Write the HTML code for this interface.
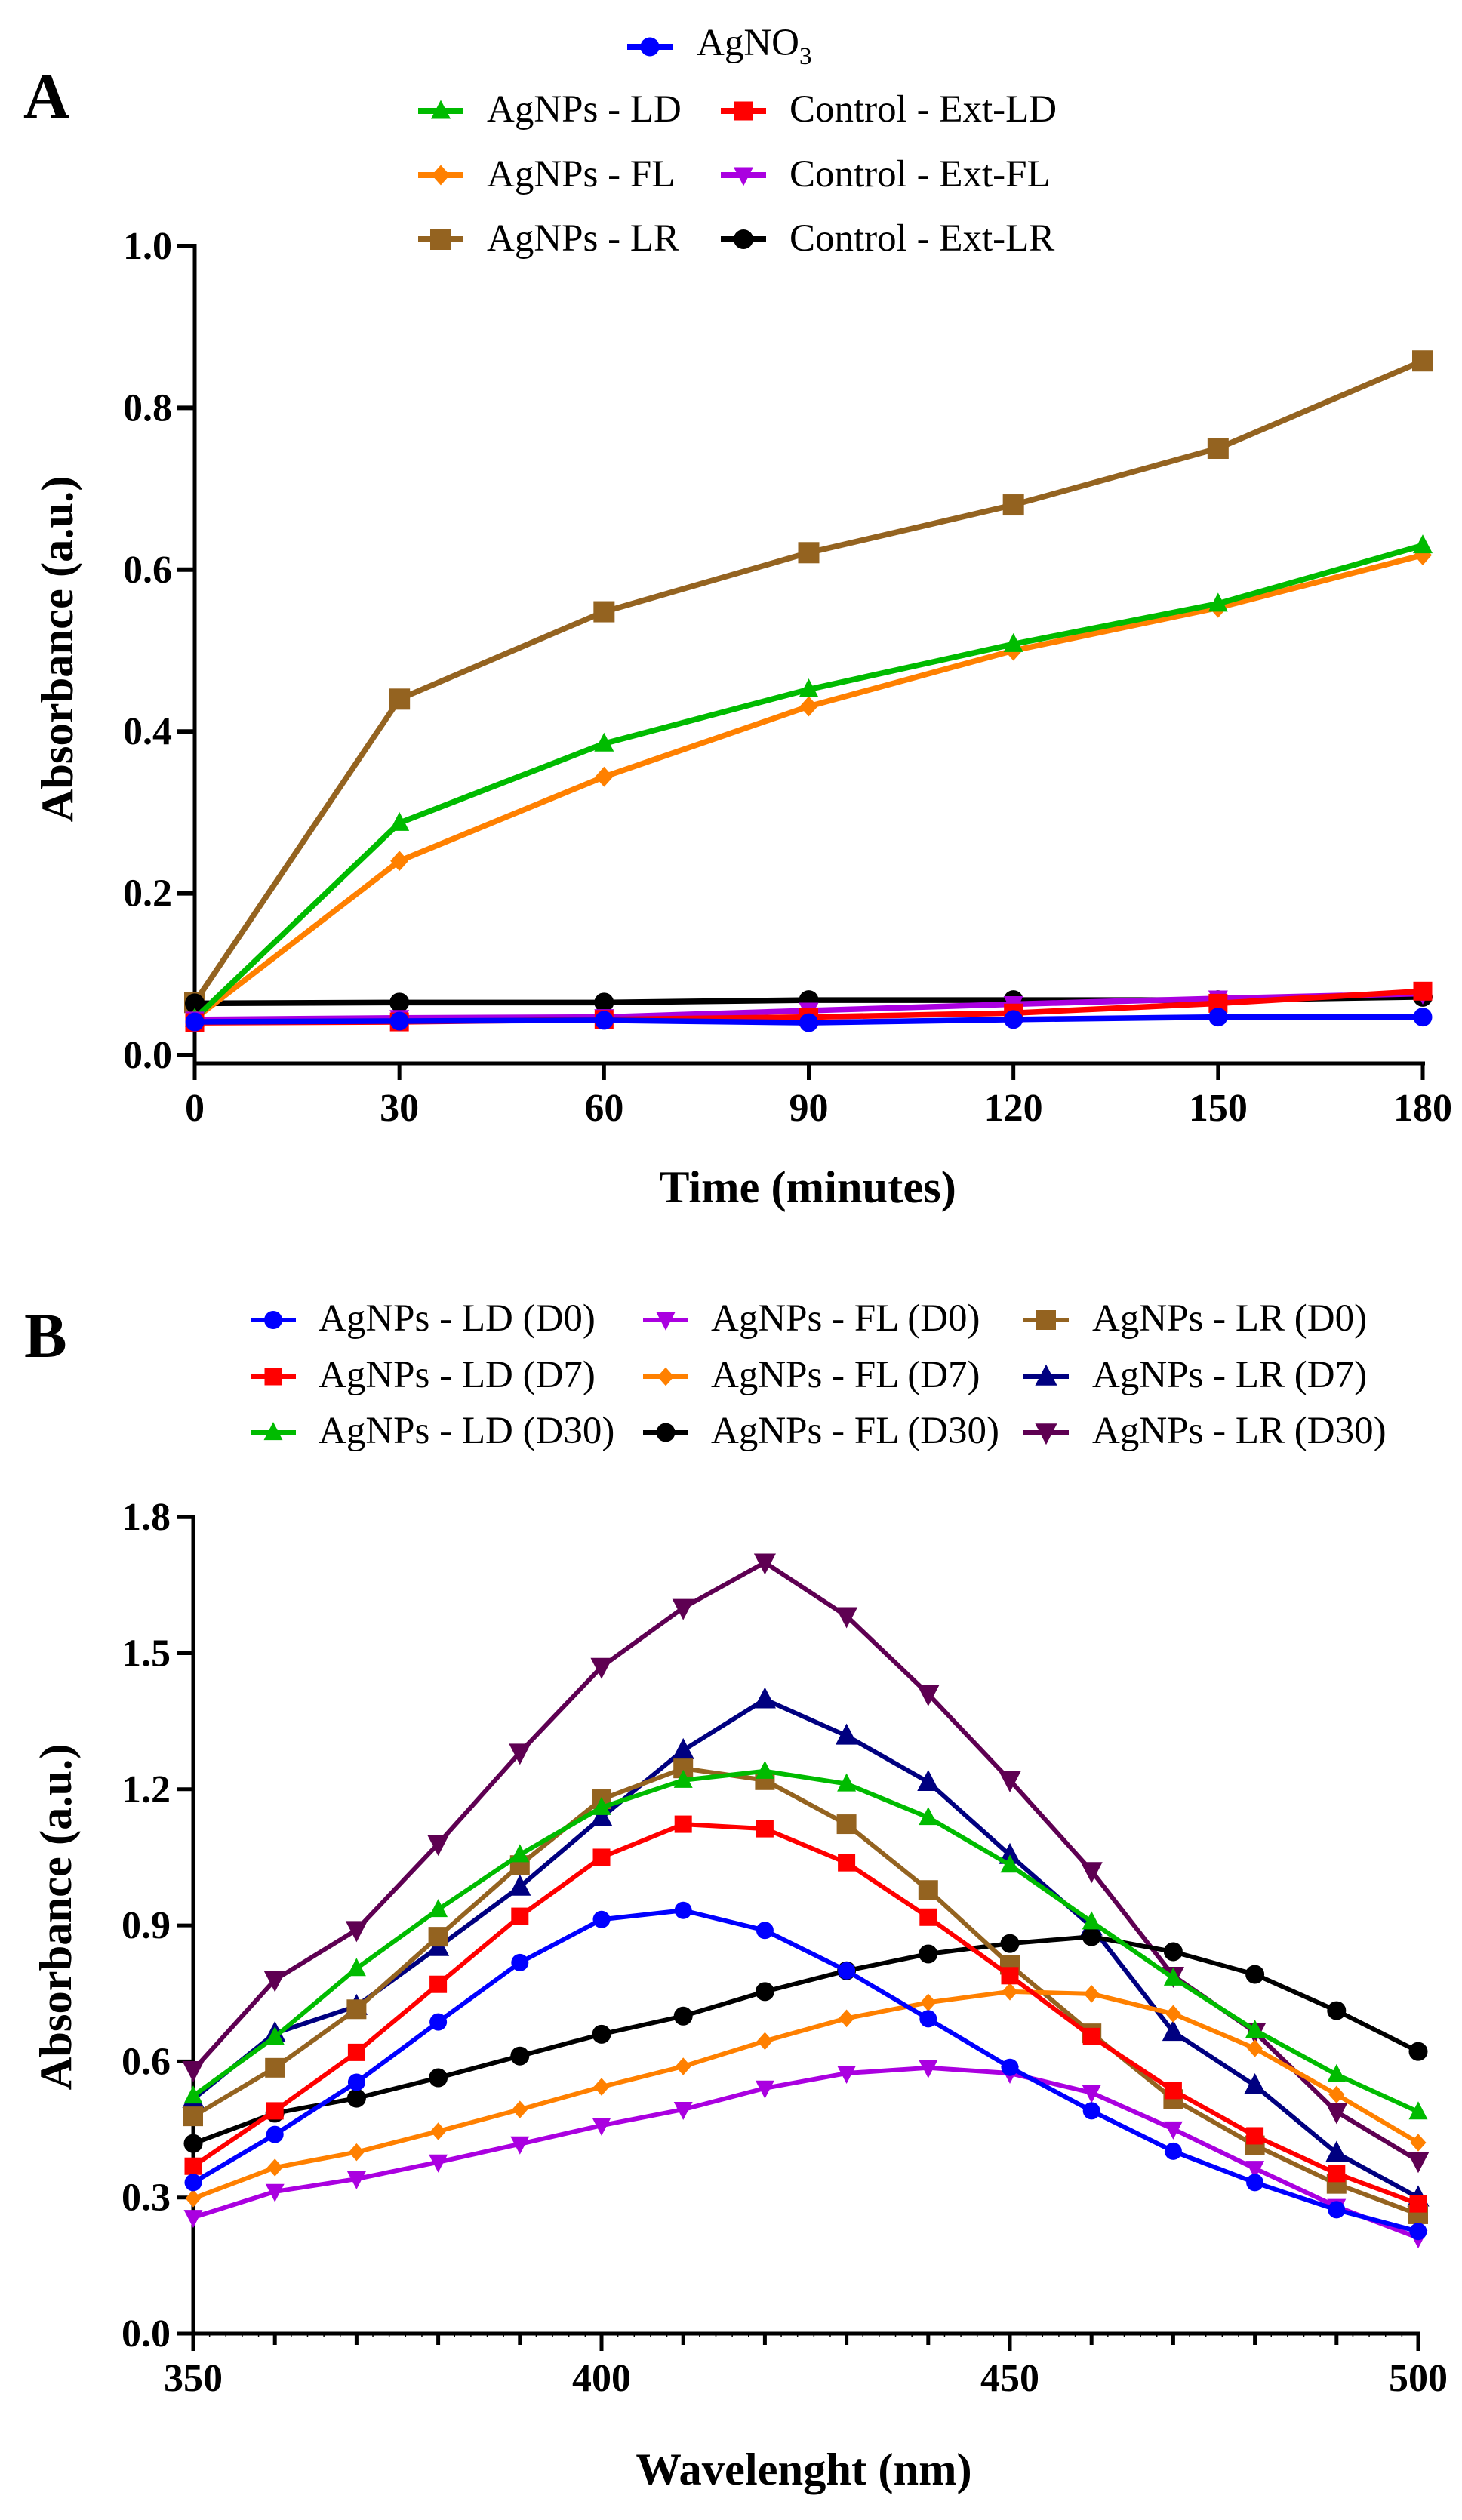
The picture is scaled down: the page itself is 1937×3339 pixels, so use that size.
<!DOCTYPE html>
<html lang="en">
<head>
<meta charset="utf-8">
<title>Absorbance charts</title>
<style>
html,body{margin:0;padding:0;background:#fff;}
svg{display:block;}
text{font-family:"Liberation Serif","Times New Roman",serif;fill:#000;}
.tick{font-size:52px;font-weight:700;}
.title{font-size:60.5px;font-weight:700;}
.panel{font-size:85px;font-weight:700;}
.leg{font-size:51px;}
</style>
</head>
<body>
<svg id="figure" xmlns="http://www.w3.org/2000/svg" width="1937" height="3339" viewBox="0 0 1937 3339">
  <rect x="0" y="0" width="1937" height="3339" fill="#ffffff"/>
  <text class="panel" x="31" y="156">A</text>
  <text class="panel" x="32" y="1798">B</text>
  <text class="title" x="1070" y="1593" text-anchor="middle">Time (minutes)</text>
  <text class="title" x="1065" y="3292" text-anchor="middle">Wavelenght (nm)</text>
  <text class="title" transform="translate(96 860) rotate(-90)" text-anchor="middle">Absorbance (a.u.)</text>
  <text class="title" transform="translate(94 2540) rotate(-90)" text-anchor="middle">Absorbance (a.u.)</text>
  <g id="chart-a"></g>
  <g id="chart-b"></g>
  <g id="legend-a"></g>
  <g id="legend-b"></g>
</svg>
<script>
/* ---------- Chart A data ---------- */
const timeMinutes = [0, 30, 60, 90, 120, 150, 180];
const timeTickLabels = ['0', '30', '60', '90', '120', '150', '180'];
const absorbanceTicksA = [0, 0.2, 0.4, 0.6, 0.8, 1.0];
const absorbanceTickLabelsA = ['0.0', '0.2', '0.4', '0.6', '0.8', '1.0'];
const agNO3 = [0.041, 0.042, 0.043, 0.040, 0.044, 0.047, 0.047];
const agnpsLD = [0.045, 0.287, 0.385, 0.452, 0.508, 0.558, 0.630];
const agnpsFL = [0.045, 0.240, 0.344, 0.431, 0.500, 0.553, 0.618];
const agnpsLR = [0.065, 0.440, 0.548, 0.621, 0.680, 0.750, 0.858];
const controlExtLD = [0.040, 0.041, 0.044, 0.047, 0.052, 0.064, 0.079];
const controlExtFL = [0.044, 0.046, 0.047, 0.055, 0.063, 0.070, 0.076];
const controlExtLR = [0.064, 0.065, 0.065, 0.068, 0.068, 0.068, 0.072];

/* ---------- Chart B data ---------- */
const wavelengths = [350, 360, 370, 380, 390, 400, 410, 420, 430, 440, 450, 460, 470, 480, 490, 500];
const wavelengthMajorTicks = [350, 400, 450, 500];
const wavelengthTickLabels = ['350', '400', '450', '500'];
const absorbanceTicksB = [0, 0.3, 0.6, 0.9, 1.2, 1.5, 1.8];
const absorbanceTickLabelsB = ['0.0', '0.3', '0.6', '0.9', '1.2', '1.5', '1.8'];
const ldD0 = [0.333, 0.439, 0.554, 0.687, 0.818, 0.913, 0.933, 0.889, 0.800, 0.694, 0.587, 0.491, 0.402, 0.333, 0.273, 0.225];
const ldD7 = [0.369, 0.491, 0.620, 0.770, 0.920, 1.050, 1.123, 1.113, 1.038, 0.918, 0.789, 0.655, 0.536, 0.436, 0.353, 0.286];
const ldD30 = [0.524, 0.654, 0.805, 0.935, 1.056, 1.160, 1.220, 1.240, 1.212, 1.138, 1.033, 0.908, 0.784, 0.669, 0.571, 0.489];
const flD0 = [0.256, 0.313, 0.341, 0.378, 0.418, 0.459, 0.494, 0.541, 0.574, 0.586, 0.574, 0.531, 0.451, 0.364, 0.280, 0.211];
const flD7 = [0.298, 0.366, 0.400, 0.446, 0.494, 0.544, 0.589, 0.645, 0.695, 0.730, 0.754, 0.749, 0.705, 0.629, 0.527, 0.421];
const flD30 = [0.419, 0.486, 0.519, 0.564, 0.612, 0.660, 0.700, 0.754, 0.800, 0.837, 0.860, 0.875, 0.842, 0.792, 0.712, 0.622];
const lrD0 = [0.479, 0.586, 0.715, 0.875, 1.033, 1.178, 1.246, 1.220, 1.123, 0.978, 0.813, 0.662, 0.517, 0.415, 0.330, 0.263];
const lrD7 = [0.517, 0.662, 0.722, 0.852, 0.985, 1.138, 1.286, 1.398, 1.318, 1.216, 1.055, 0.897, 0.665, 0.547, 0.398, 0.300];
const lrD30 = [0.581, 0.780, 0.890, 1.080, 1.281, 1.470, 1.600, 1.700, 1.582, 1.410, 1.220, 1.020, 0.789, 0.665, 0.489, 0.381];

/* ---------- Styles ---------- */
const BLUE = '#0000ff', RED = '#ff0000', GREEN = '#00bb00', ORANGE = '#ff8000',
      BROWN = '#946320', PURPLE = '#aa00e0', BLACK = '#000000', NAVY = '#000080', PLUM = '#5e0052';

/* ---------- Axis functions ---------- */
const xA = t => 258 + (t - 0) * (1885 - 258) / 180;
const yA = v => 1398 - v * 1072;
const xB = w => 256 + (w - 350) * (1879 - 256) / 150;
const yB = v => 3092 - v * 601;

const NS = 'http://www.w3.org/2000/svg';
function mk(tag, attrs, parent) {
  const el = document.createElementNS(NS, tag);
  for (const k in attrs) el.setAttribute(k, attrs[k]);
  parent.appendChild(el);
  return el;
}
function drawMarker(shape, cx, cy, s, color, parent) {
  let el;
  if (shape === 'circle') {
    el = mk('circle', {cx: cx, cy: cy, r: s / 2, fill: color}, parent);
  } else if (shape === 'square') {
    el = mk('rect', {x: cx - s / 2, y: cy - s / 2, width: s, height: s, fill: color}, parent);
  } else if (shape === 'up') {
    el = mk('polygon', {points: [cx, cy - s * 0.58, cx + s * 0.52, cy + s * 0.42, cx - s * 0.52, cy + s * 0.42].join(' '), fill: color}, parent);
  } else if (shape === 'down') {
    el = mk('polygon', {points: [cx, cy + s * 0.58, cx + s * 0.52, cy - s * 0.42, cx - s * 0.52, cy - s * 0.42].join(' '), fill: color}, parent);
  } else {
    el = mk('polygon', {points: [cx, cy - s * 0.56, cx + s * 0.5, cy, cx, cy + s * 0.56, cx - s * 0.5, cy].join(' '), fill: color}, parent);
  }
  return el;
}
function drawSeries(parent, key, xs, ys, xf, yf, color, shape, size, lw) {
  const g = mk('g', {}, parent);
  
  
  const line = mk('polyline', {
    points: xs.map((x, i) => xf(x) + ',' + yf(ys[i])).join(' '),
    fill: 'none', stroke: color, 'stroke-width': lw, 'stroke-linejoin': 'round'
  }, g);
  
  
  xs.forEach((x, i) => {
    const m = drawMarker(shape, xf(x), yf(ys[i]), size, color, g);
    
    
  });
}
function drawLegendEntry(parent, key, label, sub, lineLeft, markerX, textX, y, baseline, color, shape, size, lw) {
  const g = mk('g', {}, parent);
  
  
  const ln = mk('line', {x1: lineLeft, x2: lineLeft + 60, y1: y, y2: y, stroke: color, 'stroke-width': lw}, g);
  
  
  const mark = drawMarker(shape, markerX, y, size, color, g);
  
  
  const t = mk('text', {x: textX, y: baseline, class: 'leg'}, g);
  
  
  t.textContent = label;
  if (sub) {
    const s = mk('tspan', {dy: 12, 'font-size': 33}, t);
    s.textContent = sub;
  }
}

/* ---------- Chart A ---------- */
const chartA = document.getElementById('chart-a');
const axisA = mk('g', {}, chartA);


const yAxisA = mk('line', {x1: 258, x2: 258, y1: yA(1) - 3, y2: 1431, stroke: '#000', 'stroke-width': 5}, axisA);


const xAxisA = mk('line', {x1: 256, x2: 1888, y1: 1409, y2: 1409, stroke: '#000', 'stroke-width': 5}, axisA);


absorbanceTicksA.forEach((v, i) => {
  const tk = mk('line', {x1: 235, x2: 258, y1: yA(v), y2: yA(v), stroke: '#000', 'stroke-width': 6}, axisA);
  
  
  const lb = mk('text', {x: 228, y: yA(v) + 17, 'text-anchor': 'end', class: 'tick'}, axisA);
  
  
  lb.textContent = absorbanceTickLabelsA[i];
});
timeMinutes.forEach((t, i) => {
  const tk = mk('line', {x1: xA(t), x2: xA(t), y1: 1409, y2: 1431, stroke: '#000', 'stroke-width': 5}, axisA);
  
  
  const lb = mk('text', {x: xA(t), y: 1485, 'text-anchor': 'middle', class: 'tick'}, axisA);
  
  
  lb.textContent = timeTickLabels[i];
});
drawSeries(chartA, 'agnps-lr', timeMinutes, agnpsLR, xA, yA, BROWN, 'square', 28, 7.5);
drawSeries(chartA, 'control-ext-lr', timeMinutes, controlExtLR, xA, yA, BLACK, 'circle', 26, 7.5);
drawSeries(chartA, 'agnps-fl', timeMinutes, agnpsFL, xA, yA, ORANGE, 'diamond', 24, 7.5);
drawSeries(chartA, 'agnps-ld', timeMinutes, agnpsLD, xA, yA, GREEN, 'up', 25, 7.5);
drawSeries(chartA, 'control-ext-fl', timeMinutes, controlExtFL, xA, yA, PURPLE, 'down', 25, 7.5);
drawSeries(chartA, 'control-ext-ld', timeMinutes, controlExtLD, xA, yA, RED, 'square', 25, 7.5);
drawSeries(chartA, 'agno3', timeMinutes, agNO3, xA, yA, BLUE, 'circle', 25, 7.5);

const legA = document.getElementById('legend-a');
drawLegendEntry(legA, 'agno3', 'AgNO', '3', 831, 861, 923, 62, 73, BLUE, 'circle', 25, 8);
drawLegendEntry(legA, 'agnps-ld', 'AgNPs - LD', '', 554, 584, 645, 147, 161, GREEN, 'up', 25, 8);
drawLegendEntry(legA, 'agnps-fl', 'AgNPs - FL', '', 554, 584, 645, 232, 247, ORANGE, 'diamond', 24, 8);
drawLegendEntry(legA, 'agnps-lr', 'AgNPs - LR', '', 554, 584, 645, 317, 332, BROWN, 'square', 28, 8);
drawLegendEntry(legA, 'control-ext-ld', 'Control - Ext-LD', '', 955, 985, 1046, 147, 161, RED, 'square', 25, 8);
drawLegendEntry(legA, 'control-ext-fl', 'Control - Ext-FL', '', 955, 985, 1046, 232, 247, PURPLE, 'down', 25, 8);
drawLegendEntry(legA, 'control-ext-lr', 'Control - Ext-LR', '', 955, 985, 1046, 317, 332, BLACK, 'circle', 26, 8);

/* ---------- Chart B ---------- */
const chartB = document.getElementById('chart-b');
const axisB = mk('g', {}, chartB);


for (let w = 350; w <= 500; w += 2) {
  const mn = mk('line', {x1: xB(w), x2: xB(w), y1: 3092, y2: 3096, stroke: '#000', 'stroke-width': 1.5}, axisB);
  
  
}
wavelengths.forEach(w => {
  const tk = mk('line', {x1: xB(w), x2: xB(w), y1: 3092, y2: 3107, stroke: '#000', 'stroke-width': 5}, axisB);
  
  
});
wavelengthMajorTicks.forEach((w, i) => {
  const tk = mk('line', {x1: xB(w), x2: xB(w), y1: 3092, y2: 3115, stroke: '#000', 'stroke-width': 5}, axisB);
  
  
  const lb = mk('text', {x: xB(w), y: 3168, 'text-anchor': 'middle', class: 'tick'}, axisB);
  
  
  lb.textContent = wavelengthTickLabels[i];
});
const yAxisB = mk('line', {x1: 256, x2: 256, y1: yB(1.8) - 3, y2: 3115, stroke: '#000', 'stroke-width': 5}, axisB);


const xAxisB = mk('line', {x1: 234, x2: 1881, y1: 3092, y2: 3092, stroke: '#000', 'stroke-width': 5}, axisB);


absorbanceTicksB.forEach((v, i) => {
  const tk = mk('line', {x1: 234, x2: 256, y1: yB(v), y2: yB(v), stroke: '#000', 'stroke-width': 5}, axisB);
  
  
  const lb = mk('text', {x: 226, y: yB(v) + 17, 'text-anchor': 'end', class: 'tick'}, axisB);
  
  
  lb.textContent = absorbanceTickLabelsB[i];
});
drawSeries(chartB, 'lr-d30', wavelengths, lrD30, xB, yB, PLUM, 'down', 28, 6);
drawSeries(chartB, 'lr-d7', wavelengths, lrD7, xB, yB, NAVY, 'up', 28, 6);
drawSeries(chartB, 'fl-d30', wavelengths, flD30, xB, yB, BLACK, 'circle', 25, 6);
drawSeries(chartB, 'lr-d0', wavelengths, lrD0, xB, yB, BROWN, 'square', 26, 6);
drawSeries(chartB, 'fl-d7', wavelengths, flD7, xB, yB, ORANGE, 'diamond', 21, 6);
drawSeries(chartB, 'fl-d0', wavelengths, flD0, xB, yB, PURPLE, 'down', 24, 6);
drawSeries(chartB, 'ld-d30', wavelengths, ldD30, xB, yB, GREEN, 'up', 24, 6);
drawSeries(chartB, 'ld-d7', wavelengths, ldD7, xB, yB, RED, 'square', 23, 6);
drawSeries(chartB, 'ld-d0', wavelengths, ldD0, xB, yB, BLUE, 'circle', 23, 6);

const legB = document.getElementById('legend-b');
drawLegendEntry(legB, 'ld-d0', 'AgNPs - LD (D0)', '', 332, 362, 422, 1749, 1763, BLUE, 'circle', 24, 6);
drawLegendEntry(legB, 'ld-d7', 'AgNPs - LD (D7)', '', 332, 362, 422, 1824, 1838, RED, 'square', 23, 6);
drawLegendEntry(legB, 'ld-d30', 'AgNPs - LD (D30)', '', 332, 362, 422, 1898, 1912, GREEN, 'up', 24, 6);
drawLegendEntry(legB, 'fl-d0', 'AgNPs - FL (D0)', '', 852, 882, 942, 1749, 1763, PURPLE, 'down', 24, 6);
drawLegendEntry(legB, 'fl-d7', 'AgNPs - FL (D7)', '', 852, 882, 942, 1824, 1838, ORANGE, 'diamond', 22, 6);
drawLegendEntry(legB, 'fl-d30', 'AgNPs - FL (D30)', '', 852, 882, 942, 1898, 1912, BLACK, 'circle', 25, 6);
drawLegendEntry(legB, 'lr-d0', 'AgNPs - LR (D0)', '', 1356, 1386, 1447, 1749, 1763, BROWN, 'square', 26, 6);
drawLegendEntry(legB, 'lr-d7', 'AgNPs - LR (D7)', '', 1356, 1386, 1447, 1824, 1838, NAVY, 'up', 28, 6);
drawLegendEntry(legB, 'lr-d30', 'AgNPs - LR (D30)', '', 1356, 1386, 1447, 1898, 1912, PLUM, 'down', 28, 6);
</script>
</body>
</html>
